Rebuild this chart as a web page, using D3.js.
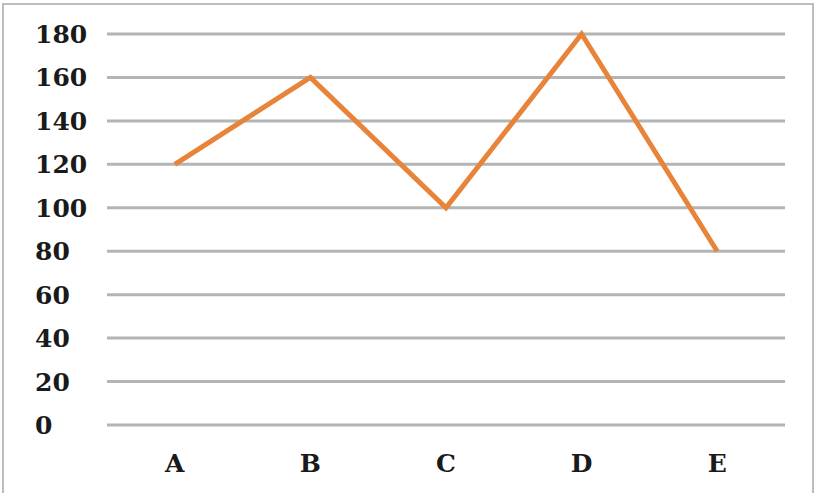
<!DOCTYPE html>
<html>
<head>
<meta charset="utf-8">
<script src="https://cdn.jsdelivr.net/npm/d3@7"></script>
<style>
  html, body { margin: 0; padding: 0; background: #fff; }
  svg { display: block; }
</style>
</head>
<body>
<div id="chart"></div>
<script>
// Chart data
const categories = ["A", "B", "C", "D", "E"];
const values = [120, 160, 100, 180, 80];
const yTicks = [0, 20, 40, 60, 80, 100, 120, 140, 160, 180];

const width = 817;
const height = 493;
const margin = { top: 34, right: 32, bottom: 68, left: 107 };

const svg = d3.select("#chart")
  .append("svg")
  .attr("width", width)
  .attr("height", height);

// Outer frame (no bottom edge visible)
svg.append("path")
  .attr("d", `M3,${height} V4 H813 V${height}`)
  .attr("fill", "none")
  .attr("stroke", "#bdbdbd")
  .attr("stroke-width", 2);

const x = d3.scaleBand()
  .domain(categories)
  .range([margin.left, width - margin.right]);

const y = d3.scaleLinear()
  .domain([0, 180])
  .range([height - margin.bottom, margin.top]);

// Gridlines
svg.append("g")
  .selectAll("line")
  .data(yTicks)
  .enter()
  .append("line")
  .attr("x1", margin.left)
  .attr("x2", width - margin.right)
  .attr("y1", d => y(d))
  .attr("y2", d => y(d))
  .attr("stroke", "#b4b4b4")
  .attr("stroke-width", 3);

// Y labels (left aligned)
svg.append("g")
  .selectAll("text")
  .data(yTicks)
  .enter()
  .append("text")
  .attr("x", 35)
  .attr("y", d => y(d))
  .attr("dy", "0.36em")
  .attr("font-family", "DejaVu Serif")
  .attr("font-weight", "bold")
  .attr("font-size", 25)
  .attr("fill", "#1a1a1a")
  .text(d => d);

// X labels
svg.append("g")
  .selectAll("text")
  .data(categories)
  .enter()
  .append("text")
  .attr("x", d => x(d) + x.bandwidth() / 2)
  .attr("y", 463)
  .attr("dy", "0.36em")
  .attr("text-anchor", "middle")
  .attr("font-family", "DejaVu Serif")
  .attr("font-weight", "bold")
  .attr("font-size", 25)
  .attr("fill", "#1a1a1a")
  .text(d => d);

// Line
const line = d3.line()
  .x((d, i) => x(categories[i]) + x.bandwidth() / 2)
  .y(d => y(d));

svg.append("path")
  .datum(values)
  .attr("d", line)
  .attr("fill", "none")
  .attr("stroke", "#e8833a")
  .attr("stroke-width", 5)
  .attr("stroke-linejoin", "miter");
</script>
</body>
</html>
